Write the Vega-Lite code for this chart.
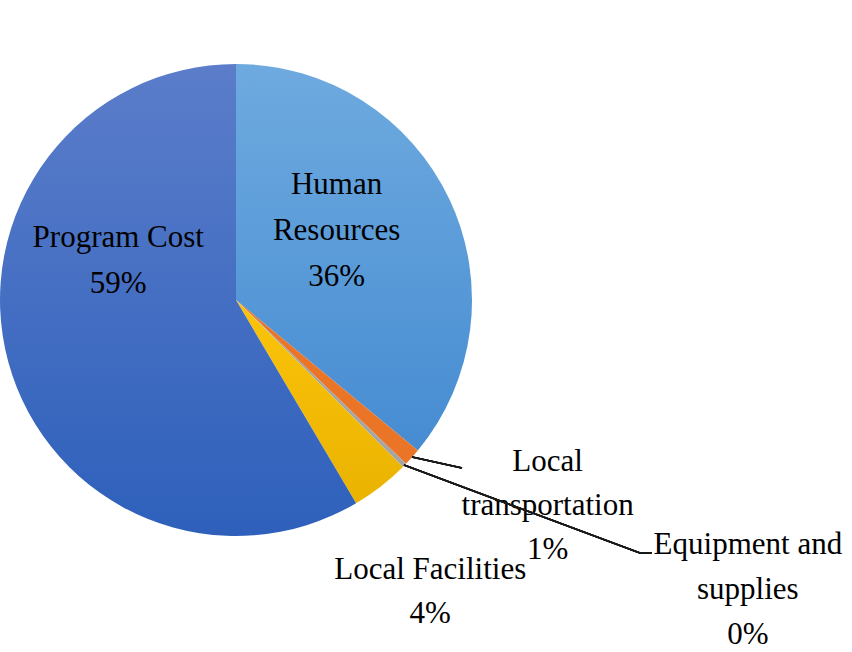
{
  "$schema": "https://vega.github.io/schema/vega-lite/v6.json",
  "width": 472,
  "height": 600,
  "padding": {"left": 0, "top": 0, "right": 380, "bottom": 52},
  "autosize": {"type": "none"},
  "background": "white",
  "view": {"stroke": null},
  "config": {"text": {"font": "'Liberation Serif', 'Times New Roman', 'DejaVu Serif', serif"}},
  "data": {
    "values": [
      {"category": "Human Resources", "value": 36, "idx": 1, "label": "Human\nResources\n36%"},
      {"category": "Local transportation", "value": 1.2, "idx": 2, "label": "Local\ntransportation\n1%"},
      {"category": "Equipment and supplies", "value": 0.3, "idx": 3, "label": "Equipment and\nsupplies\n0%"},
      {"category": "Local Facilities", "value": 4, "idx": 4, "label": "Local Facilities\n4%"},
      {"category": "Program Cost", "value": 58.5, "idx": 5, "label": "Program Cost\n59%"}
    ]
  },
  "encoding": {
    "theta": {"field": "value", "type": "quantitative", "stack": true},
    "order": {"field": "idx", "type": "quantitative"}
  },
  "layer": [
    {
      "mark": {"type": "arc", "outerRadius": 236},
      "encoding": {
        "fill": {
          "condition": [
            {"test": "datum.category === 'Human Resources'", "value": {"gradient": "linear", "x1": 0, "y1": 0, "x2": 0, "y2": 1, "stops": [{"offset": 0, "color": "#6eaadf"}, {"offset": 1, "color": "#468cd2"}]}},
            {"test": "datum.category === 'Program Cost'", "value": {"gradient": "linear", "x1": 0, "y1": 0, "x2": 0, "y2": 1, "stops": [{"offset": 0, "color": "#5b7dca"}, {"offset": 1, "color": "#2e60bb"}]}},
            {"test": "datum.category === 'Local transportation'", "value": "#ea7526"},
            {"test": "datum.category === 'Local Facilities'", "value": {"gradient": "linear", "x1": 0, "y1": 0, "x2": 0, "y2": 1, "stops": [{"offset": 0, "color": "#fcc30a"}, {"offset": 1, "color": "#eab300"}]}}
          ],
          "value": "#a5a5a5"
        }
      }
    },
    {
      "mark": {"type": "text", "radius": 120, "dx": -2, "dy": -94, "fontSize": 31, "lineHeight": 46, "lineBreak": "\n", "align": "center", "baseline": "middle", "color": "#000000"},
      "encoding": {"text": {"condition": {"test": "datum.category === 'Program Cost'", "field": "label"}, "value": ""}}
    },
    {
      "mark": {"type": "text", "radius": 120, "dx": -8, "dy": -64, "fontSize": 31, "lineHeight": 46, "lineBreak": "\n", "align": "center", "baseline": "middle", "color": "#000000"},
      "encoding": {"text": {"condition": {"test": "datum.category === 'Human Resources'", "field": "label"}, "value": ""}}
    },
    {
      "mark": {"type": "text", "radius": 340, "dx": 58, "dy": -64, "fontSize": 31, "lineHeight": 44, "lineBreak": "\n", "align": "center", "baseline": "middle", "color": "#000000"},
      "encoding": {"text": {"condition": {"test": "datum.category === 'Local transportation'", "field": "label"}, "value": ""}}
    },
    {
      "mark": {"type": "text", "radius": 500, "dx": 155, "dy": -105, "fontSize": 31, "lineHeight": 45, "lineBreak": "\n", "align": "center", "baseline": "middle", "color": "#000000"},
      "encoding": {"text": {"condition": {"test": "datum.category === 'Equipment and supplies'", "field": "label"}, "value": ""}}
    },
    {
      "mark": {"type": "text", "radius": 330, "dx": -8, "dy": 9, "fontSize": 31, "lineHeight": 44, "lineBreak": "\n", "align": "center", "baseline": "middle", "color": "#000000"},
      "encoding": {"text": {"condition": {"test": "datum.category === 'Local Facilities'", "field": "label"}, "value": ""}}
    },
    {
      "mark": {"type": "rule", "color": "#1a1a1a", "strokeWidth": 1.6},
      "encoding": {
        "theta": null,
        "order": null,
        "x": {"datum": 412, "type": "quantitative", "scale": {"domain": [0, 472], "nice": false, "zero": false}, "axis": null},
        "x2": {"datum": 462},
        "y": {"datum": 457, "type": "quantitative", "scale": {"domain": [0, 600], "reverse": true, "nice": false, "zero": false}, "axis": null},
        "y2": {"datum": 468}
      }
    },
    {
      "mark": {"type": "rule", "color": "#1a1a1a", "strokeWidth": 1.6},
      "encoding": {
        "theta": null,
        "order": null,
        "x": {"datum": 404, "type": "quantitative", "scale": {"domain": [0, 472], "nice": false, "zero": false}, "axis": null},
        "x2": {"datum": 640},
        "y": {"datum": 465, "type": "quantitative", "scale": {"domain": [0, 600], "reverse": true, "nice": false, "zero": false}, "axis": null},
        "y2": {"datum": 553}
      }
    },
    {
      "mark": {"type": "rule", "color": "#1a1a1a", "strokeWidth": 1.6},
      "encoding": {
        "theta": null,
        "order": null,
        "x": {"datum": 640, "type": "quantitative", "scale": {"domain": [0, 472], "nice": false, "zero": false}, "axis": null},
        "x2": {"datum": 652},
        "y": {"datum": 553, "type": "quantitative", "scale": {"domain": [0, 600], "reverse": true, "nice": false, "zero": false}, "axis": null},
        "y2": {"datum": 553}
      }
    }
  ]
}
